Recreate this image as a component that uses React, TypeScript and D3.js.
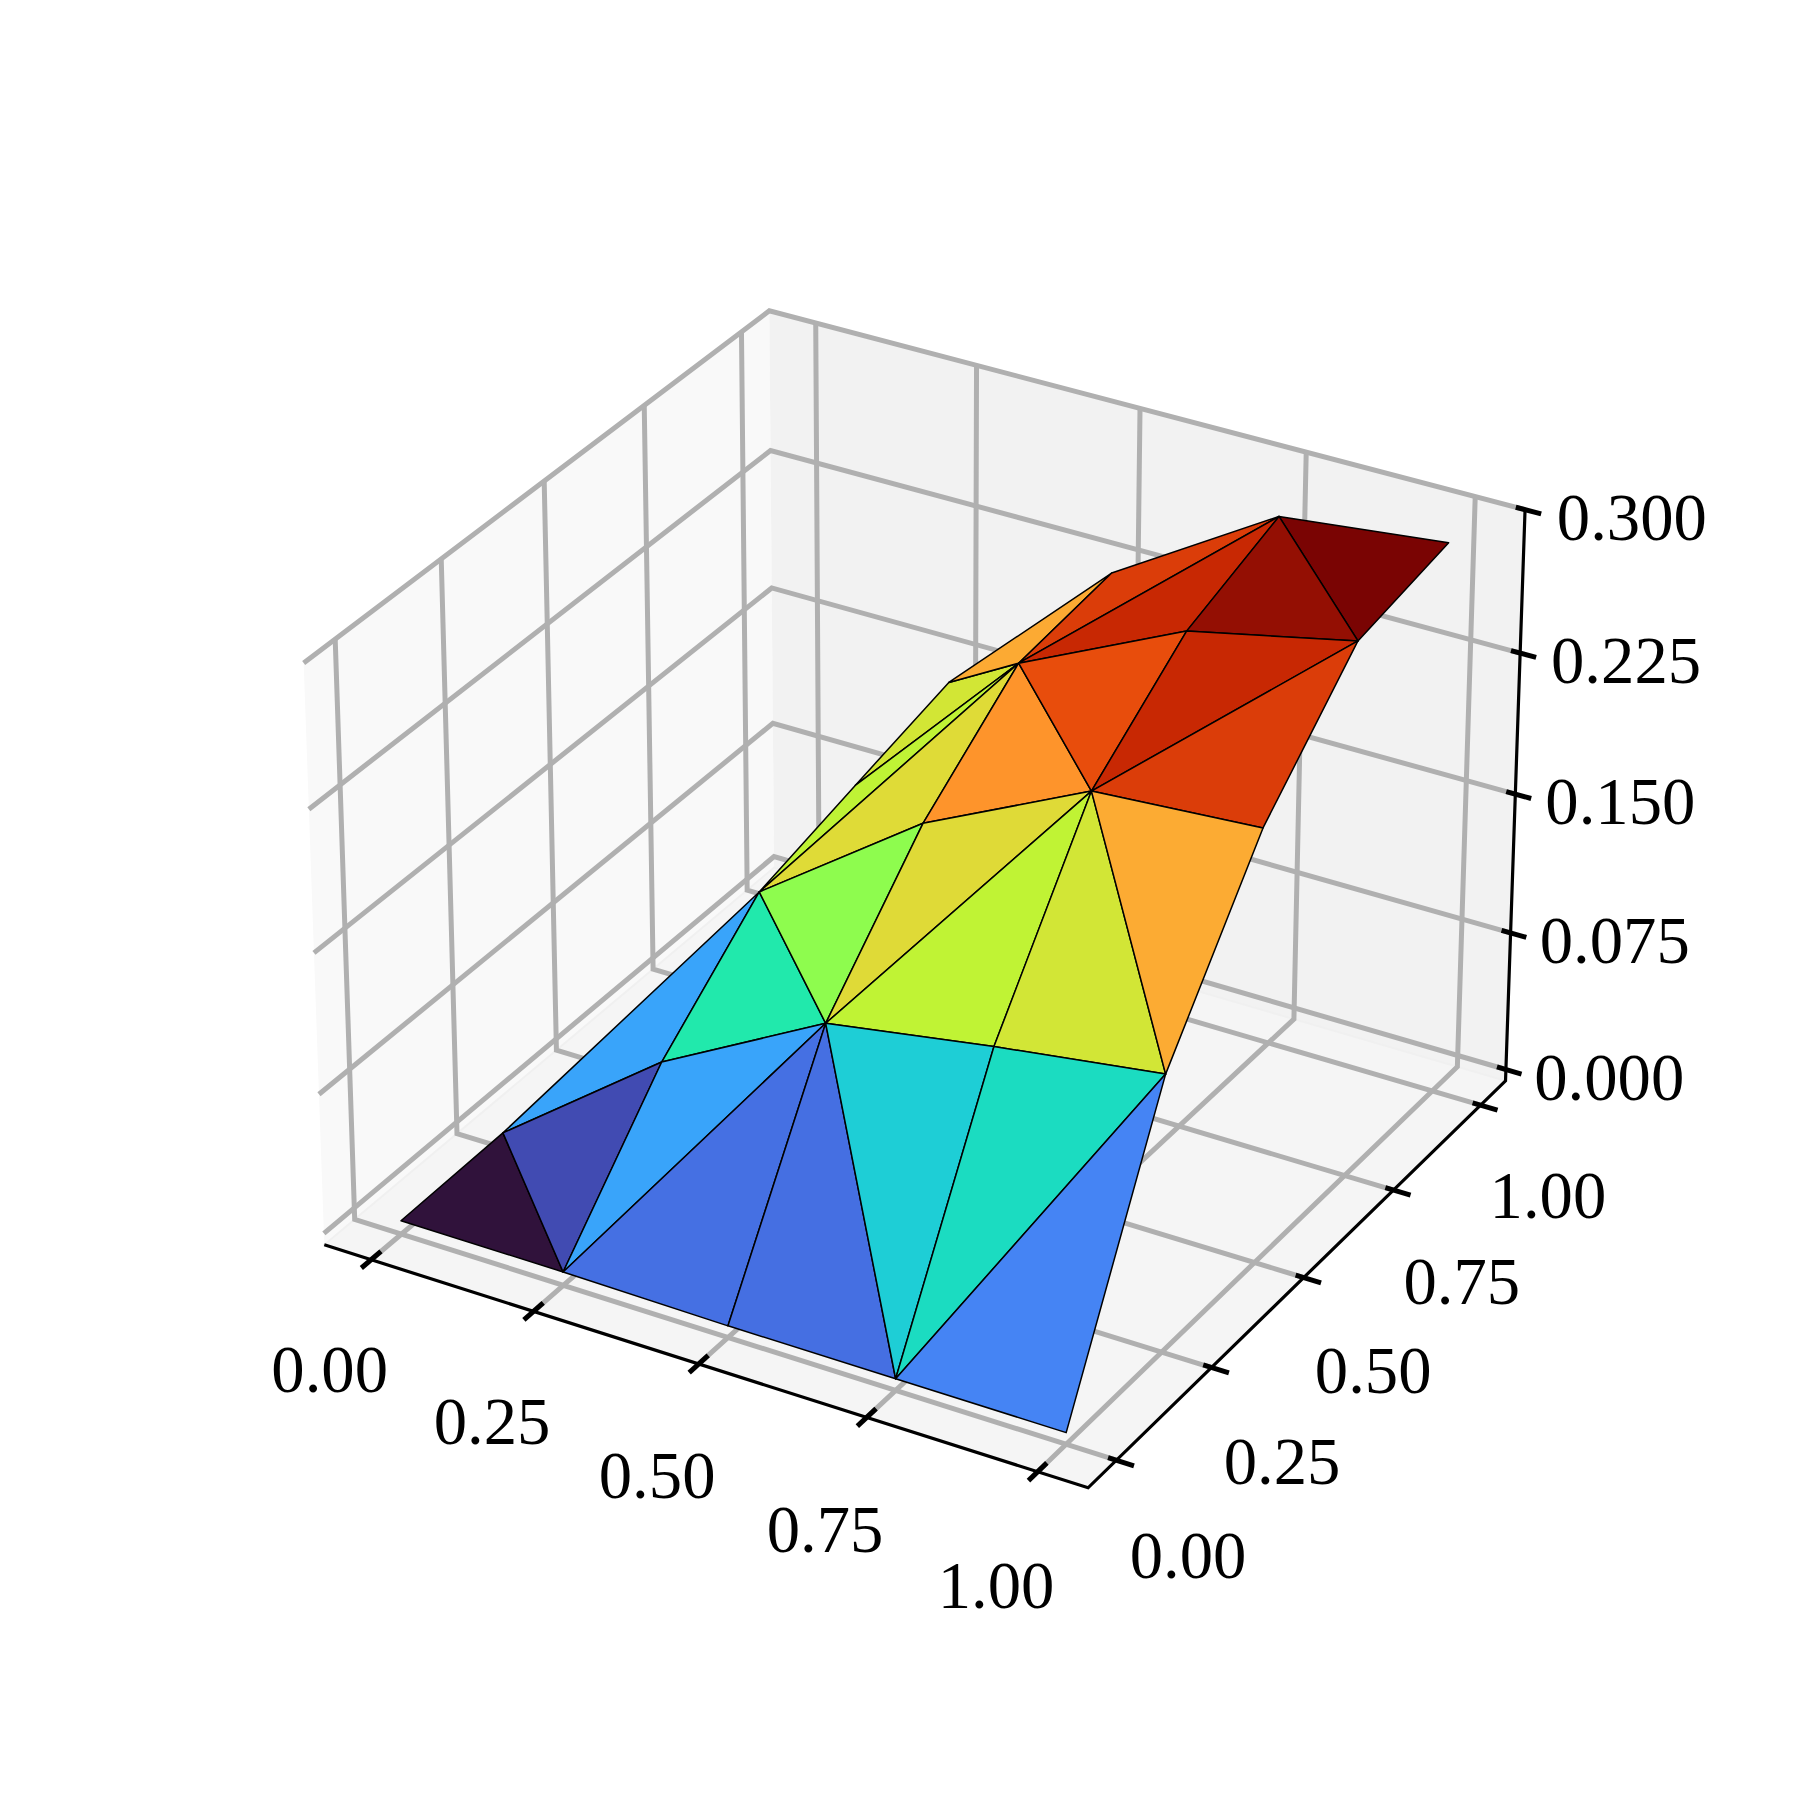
import React from "react";
import * as d3 from "d3";

// ---- data ----
const vertexX = [0,.25,.5,.75,1, 0,.25,.5,.75,1, .25,.5,.75,1, .25,.5,.75,1, .25,.5,.75,1];
const vertexY = [0,0,0,0,0, .25,.25,.25,.25,.25, .5,.5,.5,.5, .75,.75,.75,.75, 1,1,1,1];
const vertexZ = [.001,.001,0,0,0, .002,.0674,.1146,.1288,.141, .114,.176,.218,.224, .128,.218,.259,.278, .1415,.2245,.278,.2878];
// indices: A0 B1 C2 D3 E4 F5 G6 H7 I8 J9 K10 L11 M12 N13 O14 P15 Q16 R17 S18 T19 U20 V21
const triangles = [
  [0,1,5],[1,6,5],[5,6,10],[1,7,6],[6,7,10],[1,2,7],[2,3,7],[3,8,7],[3,9,8],[3,4,9],
  [7,11,10],[7,12,11],[7,8,12],[8,9,12],[9,13,12],[10,11,15],[10,14,15],[14,18,15],[18,19,15],
  [11,12,15],[15,12,16],[12,13,17],[12,16,17],[15,19,20],[15,20,16],[16,20,17],[20,17,21],
];
const xTicks = [0,.25,.5,.75,1];
const yTicks = [0,.25,.5,.75,1];
const zTicks = [0,.075,.15,.225,.3];
const xyTickLabels = ["0.00","0.25","0.50","0.75","1.00"];
const zTickLabels = ["0.000","0.075","0.150","0.225","0.300"];
const turboPositions = [0,.0909,.1111,.1818,.2222,.2727,.3333,.3636,.4444,.4545,.5455,.5556,.6364,.6667,.7273,.7778,.8182,.8889,.9091,1];
const turboColors = ["#30123B","#4454C4","#4662D7","#4490FE","#36AAF9","#1FC8DE","#1AE4B6","#29EFA2","#72FE5E","#7DFF56","#C1F334","#C8EF34","#F1CA3A","#FABA39","#FE922A","#F66B19","#EA4F0D","#CB2A04","#BE2102","#7A0403"];

// ---- layout ----
const SIZE = 1800, SCALE = 9920, CX = 923, CY = 872.4;
const xLim: [number,number] = [-.05,1.05], yLim: [number,number] = [-.05,1.05], zLim: [number,number] = [0,.3];
const paneX: [number,number] = [xLim[0]-1.1/48, xLim[1]+1.1/48];
const paneY: [number,number] = [yLim[0]-1.1/48, yLim[1]+1.1/48];
const paneZ: [number,number] = [zLim[0]-.3/48, zLim[1]];
const asp = [4,4,3*1.03].map(a => a*1.8294640721620434*25/24/Math.hypot(4,4,3));
const wx = d3.scaleLinear().domain(xLim).range([0,asp[0]]);
const wy = d3.scaleLinear().domain(yLim).range([0,asp[1]]);
const wz = d3.scaleLinear().domain(zLim).range([0,asp[2]]);
const elev = 29.9*Math.PI/180, azim = -59.85*Math.PI/180, dist = 14;
const w = [Math.cos(elev)*Math.cos(azim), Math.cos(elev)*Math.sin(azim), Math.sin(elev)];
const uLen = Math.hypot(w[0],w[1]);
const u = [-w[1]/uLen, w[0]/uLen, 0];
const v = [w[1]*u[2]-w[2]*u[1], w[2]*u[0]-w[0]*u[2], w[0]*u[1]-w[1]*u[0]];
const R = asp.map(a => a/2);
const dot = (a:number[],b:number[]) => a[0]*b[0]+a[1]*b[1]+a[2]*b[2];
function project(x:number,y:number,z:number){
  const p = [wx(x)-R[0], wy(y)-R[1], wz(z)-R[2]];
  const depth = dist - dot(p,w);
  return { sx: CX + SCALE*dot(p,u)/depth, sy: CY - SCALE*dot(p,v)/depth, depth };
}
const pt = (x:number,y:number,z:number):[number,number] => { const q = project(x,y,z); return [q.sx,q.sy]; };
const line = d3.line();
const P3 = (pts:number[][]) => line(pts.map(p => pt(p[0],p[1],p[2])))!;

const [x0,x1] = paneX, [y0,y1] = paneY, [z0,z1] = paneZ;

const means = triangles.map(t => d3.mean(t, i => vertexZ[i])!);
const norm = d3.scaleLinear().domain([d3.min(means)!, d3.max(means)!]).range([0,1]);
const turbo = d3.scaleLinear<string>().domain(turboPositions).range(turboColors).interpolate(d3.interpolateRgb);
const ordered = triangles.map((t,i)=>({t,m:means[i],d:d3.mean(t,k=>project(vertexX[k],vertexY[k],vertexZ[k]).depth)!}))
  .sort((a,b)=>b.d-a.d);

const GRID = "#b0b0b0", GW = 5, AW = 3.2, TW = 5;
const FONT = "'Liberation Serif','Times New Roman',serif";
const FS = 66.7;

function Label({p,text}:{p:[number,number],text:string}){
  return <text x={p[0]} y={p[1]} textAnchor="middle" dy="0.33em" fontFamily={FONT} fontSize={FS} fill="#000">{text}</text>;
}

export default function App(){
  return (
    <svg width={SIZE} height={SIZE} viewBox={`0 0 ${SIZE} ${SIZE}`} style={{position:"absolute",left:0,top:0,display:"block",background:"#fff"}}>
      <path d={P3([[x0,y0,z0],[x0,y1,z0],[x0,y1,z1],[x0,y0,z1]])+"Z"} fill="#f9f9f9"/>
      <path d={P3([[x0,y1,z0],[x1,y1,z0],[x1,y1,z1],[x0,y1,z1]])+"Z"} fill="#f2f2f2"/>
      <path d={P3([[x0,y0,z0],[x1,y0,z0],[x1,y1,z0],[x0,y1,z0]])+"Z"} fill="#f5f5f5" stroke="#f0f0f0" strokeWidth={2}/>
      <g fill="none" stroke={GRID} strokeWidth={GW} strokeLinejoin="miter">
        {xTicks.map(t=><path key={"gx"+t} d={P3([[t,y0,z0],[t,y1,z0],[t,y1,z1]])}/>)}
        {yTicks.map(t=><path key={"gy"+t} d={P3([[x1,t,z0],[x0,t,z0],[x0,t,z1]])}/>)}
        {zTicks.map(t=><path key={"gz"+t} d={P3([[x0,y0,t],[x0,y1,t],[x1,y1,t]])}/>)}
      </g>
      <g fill="none" stroke="#000" strokeWidth={AW}>
        <path d={P3([[x0,y0,z0],[x1,y0,z0],[x1,y1,z0],[x1,y1,z1]])} strokeLinejoin="miter"/>
      </g>
      <g fill="none" stroke="#000" strokeWidth={TW}>
        {xTicks.map(t=><path key={"tx"+t} d={P3([[t,y0-.0235,z0],[t,y0+.0235,z0]])}/>)}
        {yTicks.map(t=><path key={"ty"+t} d={P3([[x1-.012,t,z0],[x1+.0255,t,z0]])}/>)}
        {zTicks.map(t=><path key={"tz"+t} d={P3([[x1-.0135,y1,t],[x1+.0235,y1,t]])}/>)}
      </g>
      <g stroke="#000" strokeWidth={1.5} strokeLinejoin="round">
        {ordered.map((o,i)=>
          <path key={i} d={P3(o.t.map(k=>[vertexX[k],vertexY[k],vertexZ[k]]))+"Z"} fill={turbo(norm(o.m))}/>)}
      </g>
      {xTicks.map((t,i)=><Label key={"lx"+t} text={xyTickLabels[i]} p={pt(t,y0-.105,z0-.0395)}/>)}
      {yTicks.map((t,i)=><Label key={"ly"+t} text={xyTickLabels[i]} p={pt(x1+.105,t,z0-.039)}/>)}
      {zTicks.map((t,i)=><Label key={"lz"+t} text={zTickLabels[i]} p={pt(x1+.13,y1+.05,t)}/>)}
    </svg>
  );
}
